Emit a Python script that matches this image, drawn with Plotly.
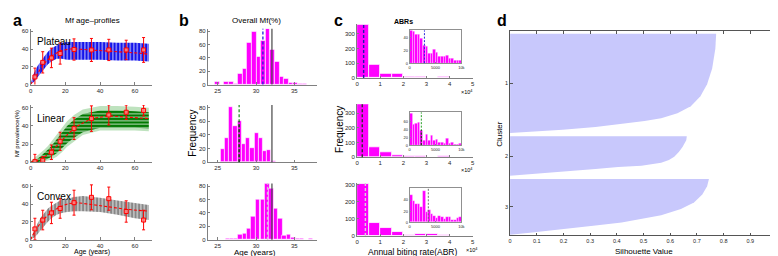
import plotly.graph_objects as go

W, H = 778, 256
FONT = "Liberation Sans, Arial, Helvetica, sans-serif"

# ---------------- panel a: Mf age-profiles ----------------
age_groups = [2.5, 7, 12, 17, 25, 35, 45, 55, 65]
plateau_obs = [8.5, 25, 30, 35, 39.5, 39, 39, 39, 39]
plateau_err = [10, 12, 11, 12, 12, 13, 12, 11, 14]
linear_obs = [0.7, 2.2, 11, 23, 37, 48, 52, 55, 57]
linear_err = [8, 4, 8, 10, 12, 14, 11, 8, 6]
convex_obs = [12, 22, 30, 35, 41.5, 47.5, 46, 31.6, 22]
convex_err = [12, 11, 12, 11, 14, 14, 13, 12, 11]

fit_age = [0, 2.5, 7, 12, 17, 22, 27, 35, 45, 55, 65, 68]
plateau_fit = [0, 7, 22, 32, 38, 40, 40, 39, 37, 36, 35, 34]
linear_fit = [0, 1, 4, 12, 22, 32, 40, 48, 51, 50, 49, 48]
convex_fit = [0, 10, 22, 31, 37, 40.5, 41.5, 39.7, 36.8, 34, 32.4, 32]

band_age = [0, 2, 4, 6, 8, 10, 12, 15, 18, 21, 25, 30, 40, 50, 60, 68]
plateau_hi = [1, 13, 21, 27, 32, 37, 41, 44, 47, 48, 48, 48, 48, 47, 47, 46]
plateau_lo = [0, 3, 8, 13, 18, 23, 26, 29, 29, 28, 28, 28, 28, 27, 27, 26]
linear_hi = [0.5, 2, 4, 7, 10, 14, 18, 25, 33, 40, 47, 53, 57, 57, 56, 55]
linear_lo = [0, 0, 0, 1, 2, 4, 6, 10, 15, 21, 27, 33, 38, 38, 38, 37]
linear_hi_outer = [1, 4, 7, 10, 14, 18, 23, 30, 38, 45, 52, 58, 62, 62, 61, 60]
linear_lo_outer = [0, 0, 0, 0, 0.5, 2, 3, 6, 11, 17, 23, 30, 35, 35, 35, 34]
convex_hi = [1, 10, 18, 25, 30, 35, 38, 42, 45, 46, 48, 49, 47, 44, 41, 39]
convex_lo = [0, 2, 6, 11, 16, 20, 24, 28, 30, 31, 32, 32, 31, 28, 24, 22]

# ---------------- panel b: overall Mf (age histograms) ----------------
b_plateau_age = [24.95, 26.15, 26.75, 27.35, 27.95, 28.55, 29.15, 29.75, 30.35, 30.95,
                 31.55, 32.15, 32.75, 33.35, 33.95, 34.55, 35.15, 35.75, 36.35]
b_plateau_cnt = [4, 4, 4, 1, 16, 24, 63, 80, 42, 66, 84, 53, 35, 12, 9, 3, 3, 1, 1]
b_linear_age = [23.5, 25.65, 26.2, 26.75, 27.3, 27.85, 28.4, 28.95, 29.5, 30.05,
                30.6, 31.15, 31.7, 32.25, 33.5]
b_linear_cnt = [1, 20, 36, 81, 53, 60, 27, 36, 21, 43, 35, 17, 18, 2, 1]
b_convex_age = [26.3, 26.85, 27.4, 27.95, 28.5, 29.1, 29.65, 30.25, 30.85, 31.45,
                32.0, 32.6, 33.15, 33.7, 34.3, 34.85, 35.45, 36.0, 37.1]
b_convex_cnt = [1, 1, 1, 8, 9, 17, 35, 60, 60, 84, 77, 47, 32, 6, 7, 3, 1, 1, 1]
b_bin_width = [0.6, 0.55, 0.57]
b_model_mean = [30.9, 27.8, 31.5]
b_observed = 32.08

# ---------------- panel c: ABRs ----------------
abr_main_centers = [0.25, 0.75, 1.25, 1.75, 2.25, 2.75, 3.25, 3.75, 4.25, 4.75]  # x 10^4
abr_main_plateau = [360, 88, 31, 27, 9, 9, 4, 11, 1, 1]
abr_main_linear = [370, 66, 32, 12, 5, 8, 4, 5, 2, 1]
abr_main_convex = [305, 78, 48, 27, 8, 11, 13, 8, 1, 2]
abr_inset_centers = [250, 750, 1250, 1750, 2250, 2750, 3250, 3750, 4250, 4750,
                     5250, 5750, 6250, 6750, 7250, 7750, 8250, 8750, 9250, 9750]
abr_inset_plateau = [52, 50, 46, 45, 40, 28, 27, 16, 15, 22, 17, 10, 10, 11, 12, 8, 8, 5, 4, 5]
abr_inset_linear = [80, 53, 55, 57, 37, 12, 26, 12, 25, 12, 14, 7, 8, 4, 16, 4, 7, 2, 2, 5]
abr_inset_convex = [50, 38, 33, 33, 28, 57, 19, 23, 15, 12, 8, 12, 9, 6, 10, 9, 4, 4, 8, 10]
abr_mean = [2850, 2250, 3600]

# ---------------- panel d: silhouette ----------------
cluster_sizes = [303, 120, 170]
cluster_gap = 10
c1_frac = [0, 0.15, 0.35, 0.51, 0.63, 0.73, 0.8, 0.85, 0.88, 0.9, 0.94, 0.967, 0.987, 1.0]
c1_sil = [0.772, 0.769, 0.757, 0.738, 0.713, 0.677, 0.627, 0.566, 0.504, 0.443, 0.32, 0.197, 0.074, 0.0]
c2_frac = [0, 0.1, 0.27, 0.4, 0.52, 0.6, 0.67, 0.75, 0.78, 0.83, 0.9, 0.96, 1.0]
c2_sil = [0.662, 0.66, 0.646, 0.632, 0.615, 0.595, 0.566, 0.492, 0.405, 0.32, 0.197, 0.074, 0.0]
c3_frac = [0, 0.13, 0.28, 0.42, 0.54, 0.65, 0.72, 0.78, 0.835, 0.906, 0.965, 1.0]
c3_sil = [0.745, 0.738, 0.72, 0.689, 0.64, 0.566, 0.492, 0.418, 0.32, 0.197, 0.074, 0.0]

# ======================================================================
MAG = "rgb(255,0,255)"
AXC = "#808080"
TXT = "#262626"


def xdom(a, b):
    return [a / W, b / W]


def ydom(top, bottom):
    return [1 - bottom / H, 1 - top / H]


fig = go.Figure()
layout = {}
shapes = []
annotations = []


def add_axes(i, xpx, ypx, xrange, yrange, xtv, ytv, xtt=None, ytt=None, fsize=6,
             mirror=False, linecolor=AXC, ticklen=2.5):
    s = "" if i == 1 else str(i)
    common = dict(showgrid=False, zeroline=False, showline=True, linecolor=linecolor,
                  linewidth=0.8, ticks="inside", ticklen=ticklen, tickwidth=0.7,
                  tickcolor=linecolor, tickfont=dict(size=fsize, color=TXT, family=FONT),
                  mirror=mirror, tickmode="array", fixedrange=True)
    xa = dict(domain=xdom(*xpx), range=xrange, anchor="y" + s, tickvals=xtv, **common)
    ya = dict(domain=ydom(*ypx), range=yrange, anchor="x" + s, tickvals=ytv, **common)
    if xtt is not None:
        xa["ticktext"] = xtt
    if ytt is not None:
        ya["ticktext"] = ytt
    layout["xaxis" + s] = xa
    layout["yaxis" + s] = ya
    return "x" + s, "y" + s


def ann(text, x, y, size, bold=False, angle=0, xanchor="center", yanchor="middle", color="black"):
    if bold:
        text = "<b>" + text + "</b>"
    annotations.append(dict(text=text, x=x / W, y=1 - y / H, xref="paper", yref="paper",
                            showarrow=False, textangle=angle, xanchor=xanchor, yanchor=yanchor,
                            borderpad=0,
                            font=dict(size=size, family=FONT, color=color)))


def vline(xa, ya, xv, color, dash, width=1.0, y1=None):
    if y1 is None:
        shapes.append(dict(type="line", xref=xa, yref=ya + " domain", x0=xv, x1=xv, y0=0, y1=1,
                           line=dict(color=color, dash=dash, width=width)))
    else:
        shapes.append(dict(type="line", xref=xa, yref=ya, x0=xv, x1=xv, y0=0, y1=y1,
                           line=dict(color=color, dash=dash, width=width)))


def bin_height(centers, counts, width, v):
    for c, n in zip(centers, counts):
        if c - width / 2 <= v <= c + width / 2:
            return n
    return 0


# ---------------- panel a ----------------
rows_px = [(20, 76.7), (97.5, 155.7), (177.3, 234.3)]
a_profiles = [
    ("Plateau", plateau_obs, plateau_err, plateau_fit, plateau_hi, plateau_lo,
     "rgb(20,20,235)", "|"),
    ("Linear", linear_obs, linear_err, linear_fit, linear_hi, linear_lo,
     "rgb(0,120,0)", "-"),
    ("Convex", convex_obs, convex_err, convex_fit, convex_hi, convex_lo,
     "rgb(135,135,135)", "|"),
]
for r, (name, obs, err, fit, hi, lo, col, pat) in enumerate(a_profiles):
    xa, ya = add_axes(1 + r, (20.7, 143.2), rows_px[r], [0, 70], [0, 63],
                      [0, 20, 40, 60], [0, 20, 40, 60])
    if name == "Linear":
        fig.add_trace(go.Scatter(x=band_age + band_age[::-1],
                                 y=linear_hi_outer + linear_lo_outer[::-1],
                                 fill="toself", fillcolor="rgba(110,190,110,0.45)",
                                 line=dict(width=0), mode="lines", xaxis=xa, yaxis=ya,
                                 hoverinfo="skip"))
    fig.add_trace(go.Scatter(x=band_age + band_age[::-1], y=hi + lo[::-1], fill="toself",
                             fillcolor=col, mode="lines", line=dict(width=0),
                             fillpattern=dict(shape=pat, bgcolor=col, fgcolor="white",
                                              fgopacity=0.75, size=3.5, solidity=0.3),
                             xaxis=xa, yaxis=ya, hoverinfo="skip"))
    fig.add_trace(go.Scatter(x=fit_age, y=fit, mode="lines",
                             line=dict(color="red", dash="3px,2px", width=1.1),
                             xaxis=xa, yaxis=ya))
    fig.add_trace(go.Scatter(x=age_groups, y=obs, mode="markers",
                             marker=dict(symbol="square", size=4, color="rgba(255,130,130,0.9)",
                                         line=dict(color="red", width=1)),
                             error_y=dict(type="data", array=err, color="red", thickness=1,
                                          width=1.5),
                             xaxis=xa, yaxis=ya))
    ann(name, 26, (rows_px[r][0] + 13.5), 10, xanchor="left")

# ---------------- panel b ----------------
b_sets = [(b_plateau_age, b_plateau_cnt), (b_linear_age, b_linear_cnt),
          (b_convex_age, b_convex_cnt)]
b_line_cols = ["rgb(30,30,220)", "rgb(40,150,40)", "rgb(205,205,205)"]
for r, (ages, cnts) in enumerate(b_sets):
    xa, ya = add_axes(4 + r, (199, 309.3), rows_px[r], [23.7, 38], [0, 84],
                      [25, 30, 35], [0, 20, 40, 60, 80])
    fig.add_trace(go.Bar(x=ages, y=cnts, width=b_bin_width[r],
                         marker=dict(color=MAG, line=dict(color="white", width=0.6)),
                         xaxis=xa, yaxis=ya))
    vline(xa, ya, b_observed, "rgb(70,70,70)", "solid", 1.2)
    vline(xa, ya, b_model_mean[r], b_line_cols[r], "3px,2px", 1.3)
    if r == 1:
        hb = bin_height(ages, cnts, b_bin_width[r], b_model_mean[r])
        vline(xa, ya, b_model_mean[r], "rgb(40,40,40)", "3px,2px", 1.3, y1=hb)

# ---------------- panel c ----------------
c_rows = [((15, 70), [0, 367]), ((96.7, 150.7), [0, 362]), ((176.7, 230.7), [0, 309])]
c_main = [abr_main_plateau, abr_main_linear, abr_main_convex]
c_main_cols = ["rgb(30,30,170)", "rgb(50,50,50)", "rgb(215,215,215)"]
for r in range(3):
    xa, ya = add_axes(7 + r, (349.3, 465.7), c_rows[r][0], [0, 5], c_rows[r][1],
                      [0, 1, 2, 3, 4, 5], [0, 100, 200, 300])
    fig.add_trace(go.Bar(x=abr_main_centers, y=c_main[r], width=0.5,
                         marker=dict(color=MAG, line=dict(color="white", width=0.8)),
                         xaxis=xa, yaxis=ya))
    vline(xa, ya, abr_mean[r] / 1e4, c_main_cols[r], "3px,2px", 1.4)

inset_rows = [((21.7, 55), [0, 52], [0, 20, 40]), ((105, 138.3), [0, 82], [0, 20, 40, 60]),
              ((181.7, 216.7), [0, 62], [0, 20, 40])]
c_inset = [abr_inset_plateau, abr_inset_linear, abr_inset_convex]
inset_cols = ["rgb(40,40,220)", "rgb(40,160,40)", "rgb(110,110,110)"]
for r in range(3):
    xa, ya = add_axes(10 + r, (402.3, 454.3), inset_rows[r][0], [0, 10000], inset_rows[r][1],
                      [0, 5000, 10000], inset_rows[r][2], fsize=4, mirror=True,
                      linecolor="#909090", ticklen=1.5)
    fig.add_trace(go.Bar(x=abr_inset_centers, y=c_inset[r], width=500,
                         marker=dict(color=MAG, line=dict(color="white", width=0.3)),
                         xaxis=xa, yaxis=ya))
    vline(xa, ya, abr_mean[r], inset_cols[r], "2px,1.5px", 1.0)
    if r == 1:
        hb = bin_height(abr_inset_centers, c_inset[r], 500, abr_mean[r])
        vline(xa, ya, abr_mean[r], "rgb(40,40,40)", "2px,1.5px", 1.0, y1=hb)

# ---------------- panel d ----------------
starts = []
pos = 7
for n in cluster_sizes:
    starts.append(pos)
    pos += n + cluster_gap
centers = [s + n / 2 for s, n in zip(starts, cluster_sizes)]
xa, ya = add_axes(13, (503.3, 772), (22.7, 230), [0, 1], [622, 0],
                  [0, 0.1, 0.2, 0.3, 0.4, 0.5, 0.6, 0.7, 0.8, 0.9, 1],
                  centers, xtt=["0", "0.1", "0.2", "0.3", "0.4", "0.5", "0.6", "0.7",
                                "0.8", "0.9", "1"], ytt=["1", "2", "3"], fsize=5.5,
                  mirror="ticks", linecolor="#555555", ticklen=3)
for k, (fr, sv) in enumerate([(c1_frac, c1_sil), (c2_frac, c2_sil), (c3_frac, c3_sil)]):
    ys = [starts[k] + f * cluster_sizes[k] for f in fr]
    fig.add_trace(go.Scatter(x=[0] + sv + [0], y=[starts[k]] + ys + [starts[k] + cluster_sizes[k]],
                             fill="toself", fillcolor="rgb(200,200,252)", mode="lines",
                             line=dict(width=0), xaxis=xa, yaxis=ya, hoverinfo="skip"))

# ---------------- text ----------------
ann("a", 2, 2, 16, bold=True, xanchor="left", yanchor="top")
ann("b", 169, 2, 16, bold=True, xanchor="left", yanchor="top")
ann("c", 325, 2, 16, bold=True, xanchor="left", yanchor="top")
ann("d", 489, 2, 16, bold=True, xanchor="left", yanchor="top")
ann("Mf age\u2013profiles", 83, 12, 8)
ann("Overall Mf(%)", 248, 12, 8)
ann("ABRs", 396, 12.5, 7, bold=True)
ann("Mf prevalence(%)", 7, 126, 6, angle=-90)
ann("Age (years)", 83, 246.5, 7)
ann("Frequency", 183, 126, 10, angle=-90)
ann("Age (years)", 247, 247.3, 8)
ann("Frequency", 331, 122, 10, angle=-90)
ann("Annual biting rate(ABR)", 405, 247, 8.5)
ann("\u00d710<sup>4</sup>", 460, 84, 5.5)
ann("\u00d710<sup>4</sup>", 460, 164, 5.5)
ann("\u00d710<sup>4</sup>", 458, 245, 5.5, xanchor="left")
ann("Silhouette Value", 638, 246.5, 8)
ann("Cluster", 492, 127, 8, angle=-90)

layout.update(dict(width=W, height=H, margin=dict(l=0, r=0, t=0, b=0),
                   paper_bgcolor="white", plot_bgcolor="white", showlegend=False,
                   shapes=shapes, annotations=annotations, bargap=0,
                   font=dict(family=FONT, color="black")))
fig.update_layout(**layout)
fig.write_html("out.html")
